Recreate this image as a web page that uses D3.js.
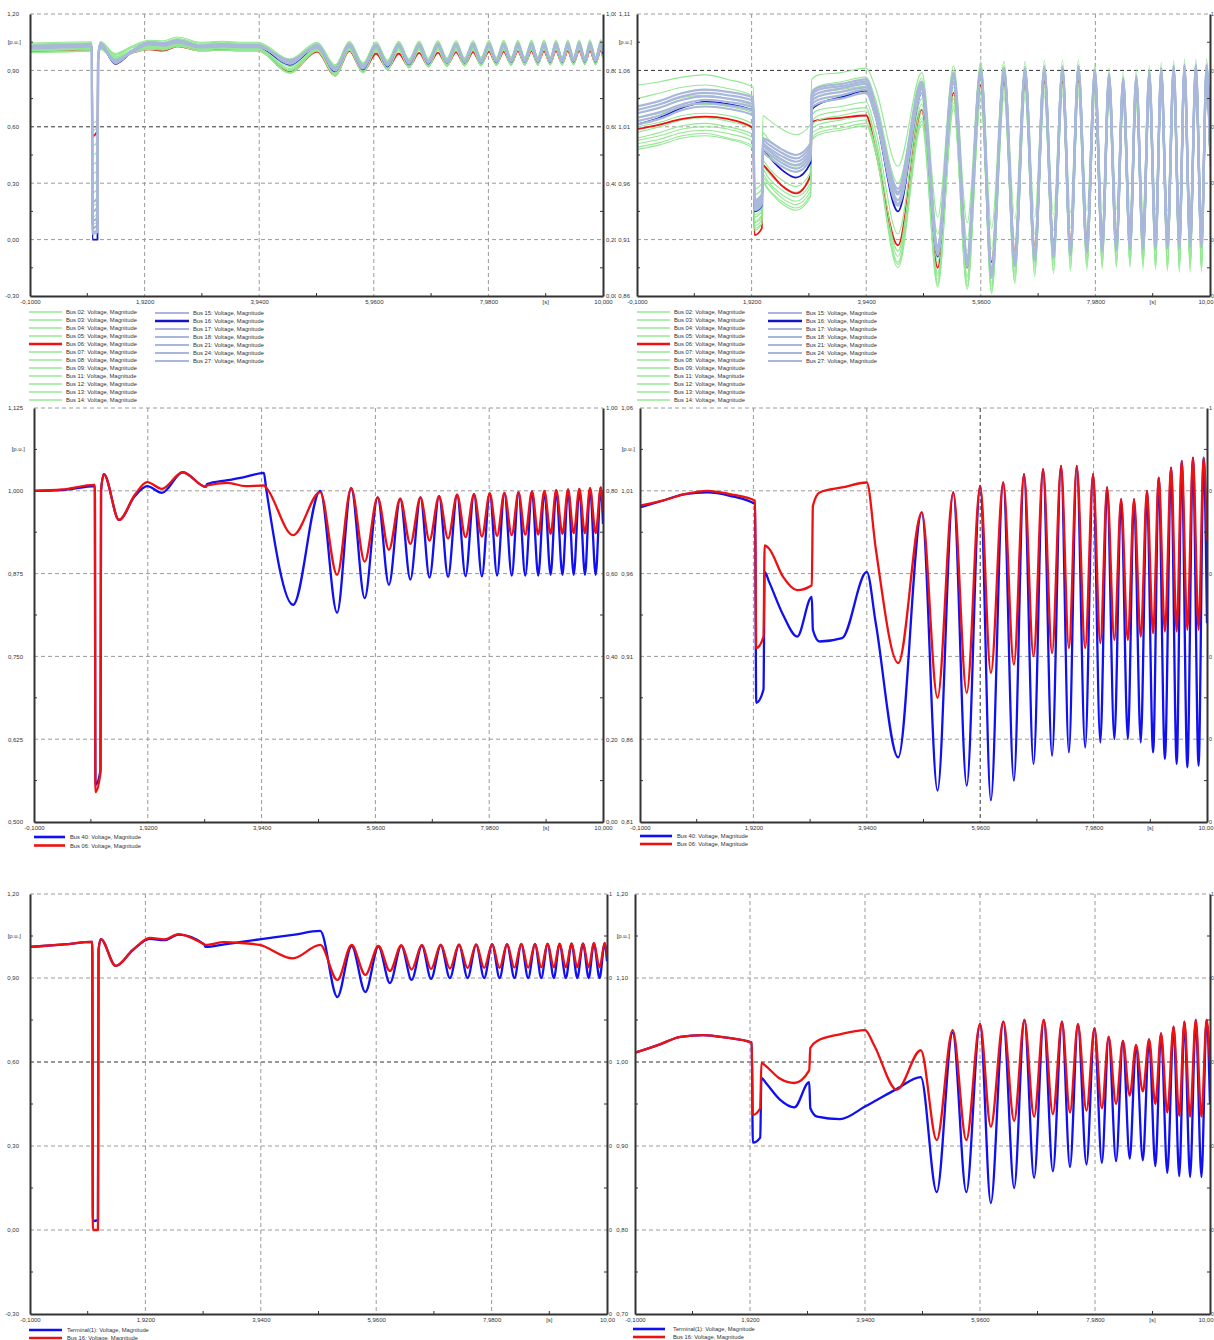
<!DOCTYPE html>
<html><head><meta charset="utf-8">
<script src="https://cdn.jsdelivr.net/npm/d3@7"></script>
<style>
body{margin:0;background:#fff;}
svg{display:block;font-family:"Liberation Sans",Arial,sans-serif;}
</style></head><body>
<svg id="chart" width="1214" height="1340"></svg>
<script>
// ---------------- axis data ----------------
const xTickVals = [-0.1, 1.92, 3.94, 5.96, 7.98, 10.0];
const xTickText = ['-0,1000', '1,9200', '3,9400', '5,9600', '7,9800', '10,000'];
const xTickTextShort = ['-0,1000', '1,9200', '3,9400', '5,9600', '7,9800', '10,00'];
const xMinorVals = [0.91, 2.93, 4.95, 6.97];
const xUnitPos = 8.99;
const rightTickVals = [0, 0.2, 0.4, 0.6, 0.8, 1.0];
const rightTickText = ['0,00', '0,20', '0,40', '0,60', '0,80', '1,00'];
const rightTickTextCut = ['0', '0', '0', '0', '0', '1'];
const tlYTicks = [-0.30, 0.00, 0.30, 0.60, 0.90, 1.20];
const trYTicks = [0.86, 0.91, 0.96, 1.01, 1.06, 1.11];
const mlYTicks = [0.500, 0.625, 0.750, 0.875, 1.000, 1.125];
const mrYTicks = [0.81, 0.86, 0.91, 0.96, 1.01, 1.06];
const blYTicks = [-0.30, 0.00, 0.30, 0.60, 0.90, 1.20];
const brYTicks = [0.70, 0.80, 0.90, 1.00, 1.10, 1.20];

// ---------------- top-left (fault scenario), time knots [s] ----------------
const tlT = [-0.1,0.5,0.99,1.0,1.09,1.1,1.14,1.4,1.7,2.0,2.25,2.5,2.9,3.3,3.6,3.92,
 4.48,4.96,5.28,5.53,5.77,6.0,6.2,6.4,6.58,6.76,6.92,7.09,7.25,7.41,7.56,7.71,7.85,7.99,8.12,8.25,8.38,8.5,8.62,8.74,8.85,8.96,9.07,9.17,9.28,9.38,9.48,9.58,9.68,9.77,9.87,9.96,10.0];
const tlBus02 = [1.045,1.05,1.052,0.62,0.64,0.98,1.055,0.99,1.03,1.06,1.058,1.078,1.05,1.055,1.05,1.05,
 .96,1.05,.93,1.055,.94,1.052,.955,1.055,.962,1.056,.965,1.057,.967,1.058,.968,1.058,.97,1.059,.97,1.06,.971,1.06,.972,1.061,.972,1.061,.973,1.062,.973,1.062,.974,1.062,.974,1.063,.974,1.063,1.02];
const tlBus03 = [1.04,1.044,1.047,0.5,0.52,0.975,1.05,0.985,1.025,1.055,1.05,1.07,1.045,1.05,1.045,1.045,
 .955,1.045,.925,1.05,.935,1.047,.95,1.05,.958,1.05,.96,1.051,.962,1.052,.963,1.052,.965,1.053,.965,1.053,.966,1.054,.966,1.054,.967,1.055,.967,1.055,.968,1.055,.968,1.056,.968,1.056,.969,1.056,1.01];
const tlBus04 = [1.01,1.014,1.018,0.35,0.37,0.96,1.03,0.97,1.005,1.03,1.025,1.045,1.018,1.022,1.018,1.018,
 .91,1.02,.885,1.025,.9,1.02,.915,1.022,.925,1.023,.93,1.024,.932,1.025,.934,1.025,.935,1.026,.936,1.026,.937,1.027,.937,1.027,.938,1.028,.938,1.028,.939,1.028,.939,1.029,.94,1.029,.94,1.029,.98];
const tlBus05 = [1.0,1.004,1.008,0.45,0.47,0.955,1.02,0.965,0.998,1.02,1.015,1.035,1.01,1.014,1.01,1.01,
 .895,1.01,.878,1.015,.895,1.01,.91,1.012,.92,1.013,.924,1.014,.926,1.015,.928,1.015,.93,1.016,.93,1.016,.931,1.017,.932,1.017,.932,1.018,.933,1.018,.933,1.018,.934,1.019,.934,1.019,.934,1.019,.975];
const tlBus06 = [1.003,1.006,1.012,0.55,0.58,0.95,1.025,0.955,0.994,1.012,1.005,1.028,1.006,1.01,1.006,1.006,
 .89,1.0,.873,1.004,.893,.99,.91,.99,.92,.993,.925,.995,.928,.997,.93,.998,.932,1.0,.933,1.0,.934,1.002,.935,1.002,.936,1.003,.936,1.004,.937,1.004,.937,1.005,.938,1.005,.938,1.006,.97];
const tlBus07 = [1.006,1.01,1.014,0.58,0.6,0.96,1.025,0.97,1.0,1.024,1.02,1.04,1.013,1.018,1.014,1.014,
 .9,1.015,.88,1.02,.897,1.015,.912,1.017,.922,1.018,.926,1.019,.929,1.02,.93,1.02,.932,1.021,.933,1.021,.934,1.022,.934,1.022,.935,1.023,.935,1.023,.936,1.023,.936,1.024,.937,1.024,.937,1.024,.978];
const tlBus08 = [0.997,1.0,1.004,0.3,0.32,0.95,1.015,0.96,0.995,1.016,1.012,1.03,1.006,1.01,1.006,1.006,
 .888,1.005,.872,1.01,.89,1.005,.905,1.008,.915,1.009,.92,1.01,.922,1.01,.925,1.011,.926,1.011,.927,1.012,.928,1.012,.929,1.013,.929,1.013,.93,1.014,.93,1.014,.931,1.014,.931,1.015,.931,1.015,.97];
const tlBus09 = [1.035,1.04,1.043,0.4,0.42,0.97,1.045,0.98,1.02,1.05,1.045,1.065,1.04,1.045,1.04,1.04,
 .95,1.04,.92,1.045,.93,1.042,.945,1.045,.953,1.045,.956,1.046,.958,1.047,.96,1.047,.961,1.048,.962,1.048,.963,1.049,.963,1.049,.964,1.05,.964,1.05,.965,1.05,.965,1.051,.965,1.051,.966,1.051,1.005];
const tlBus11 = [1.015,1.019,1.022,0.25,0.27,0.96,1.035,0.975,1.01,1.035,1.03,1.05,1.023,1.027,1.023,1.023,
 .92,1.025,.89,1.03,.905,1.026,.92,1.028,.93,1.029,.934,1.03,.936,1.03,.938,1.031,.939,1.031,.94,1.032,.941,1.032,.941,1.033,.942,1.033,.942,1.034,.943,1.034,.943,1.034,.943,1.035,.944,1.035,.985];
const tlBus12 = [1.008,1.012,1.016,0.18,0.2,0.955,1.028,0.968,1.002,1.027,1.022,1.042,1.015,1.02,1.016,1.016,
 .905,1.018,.882,1.022,.898,1.018,.913,1.02,.923,1.021,.927,1.022,.93,1.022,.931,1.023,.933,1.023,.934,1.024,.935,1.024,.935,1.025,.936,1.025,.936,1.026,.937,1.026,.937,1.026,.938,1.027,.938,1.027,.98];
const tlBus13 = [1.003,1.007,1.01,0.12,0.14,0.95,1.022,0.962,0.998,1.02,1.017,1.036,1.01,1.015,1.011,1.011,
 .9,1.012,.877,1.017,.894,1.012,.909,1.014,.919,1.015,.923,1.016,.926,1.016,.928,1.017,.929,1.017,.93,1.018,.931,1.018,.932,1.019,.932,1.019,.933,1.02,.933,1.02,.934,1.02,.934,1.021,.934,1.021,.975];
const tlBus14 = [0.995,0.998,1.002,0.08,0.1,0.945,1.012,0.955,0.993,1.012,1.008,1.028,1.002,1.007,1.003,1.003,
 .885,1.003,.87,1.008,.887,1.003,.902,1.005,.912,1.006,.917,1.007,.92,1.008,.922,1.008,.923,1.009,.924,1.009,.925,1.01,.926,1.01,.926,1.011,.927,1.011,.927,1.012,.928,1.012,.928,1.012,.928,1.012,.968];
const tlBus15 = [1.025,1.03,1.034,0.06,0.08,0.96,1.04,0.945,1.0,1.045,1.04,1.057,1.028,1.035,1.03,1.03,
 .94,1.03,.905,1.035,.915,1.032,.93,1.035,.94,1.035,.942,1.036,.945,1.036,.946,1.037,.948,1.037,.948,1.038,.95,1.038,.95,1.039,.95,1.039,.952,1.04,.952,1.04,.952,1.04,.953,1.04,.953,1.04,1.0];
const tlBus16 = [1.02,1.025,1.03,0.0,0.0,0.95,1.04,0.935,0.998,1.04,1.035,1.052,1.024,1.03,1.025,1.025,
 .93,1.028,.895,1.033,.905,1.03,.922,1.033,.932,1.033,.936,1.034,.94,1.034,.941,1.035,.942,1.035,.943,1.036,.944,1.036,.945,1.037,.945,1.037,.946,1.038,.946,1.038,.947,1.038,.947,1.038,.947,1.038,.99];
const tlBus17 = [1.02,1.025,1.03,0.1,0.12,0.96,1.035,0.95,1.0,1.04,1.035,1.05,1.025,1.03,1.027,1.027,
 .95,1.025,.91,1.03,.92,1.028,.935,1.03,.945,1.03,.946,1.031,.948,1.032,.95,1.032,.95,1.033,.951,1.033,.952,1.034,.952,1.034,.953,1.035,.953,1.035,.954,1.035,.954,1.036,.955,1.036,.955,1.036,1.0];
const tlBus18 = [1.03,1.035,1.04,0.04,0.05,0.97,1.045,0.94,1.005,1.05,1.045,1.06,1.032,1.04,1.035,1.035,
 .935,1.035,.9,1.04,.91,1.037,.925,1.04,.935,1.04,.94,1.041,.942,1.041,.944,1.042,.945,1.042,.946,1.043,.947,1.043,.948,1.044,.948,1.044,.949,1.045,.949,1.045,.95,1.045,.95,1.045,.95,1.045,1.0];
const tlBus21 = [1.018,1.022,1.027,0.15,0.17,0.95,1.03,0.955,0.995,1.038,1.032,1.048,1.022,1.028,1.024,1.024,
 .955,1.02,.915,1.025,.925,1.024,.94,1.026,.948,1.027,.95,1.028,.952,1.028,.953,1.029,.954,1.029,.955,1.03,.955,1.03,.956,1.031,.956,1.031,.957,1.032,.957,1.032,.958,1.032,.958,1.033,.958,1.033,1.0];
const tlBus24 = [1.028,1.033,1.037,0.03,0.04,0.965,1.042,0.94,1.002,1.047,1.042,1.058,1.03,1.037,1.032,1.032,
 .938,1.032,.9,1.037,.912,1.034,.928,1.037,.938,1.037,.94,1.038,.943,1.038,.944,1.039,.945,1.039,.946,1.04,.947,1.04,.948,1.041,.948,1.041,.949,1.042,.949,1.042,.95,1.042,.95,1.042,.95,1.042,1.0];
const tlBus27 = [1.022,1.027,1.031,0.2,0.22,0.955,1.036,0.95,0.998,1.042,1.036,1.052,1.026,1.032,1.028,1.028,
 .948,1.027,.908,1.032,.92,1.03,.935,1.032,.944,1.032,.946,1.033,.948,1.034,.95,1.034,.95,1.035,.951,1.035,.952,1.036,.952,1.036,.953,1.037,.953,1.037,.954,1.037,.954,1.038,.955,1.038,.955,1.038,1.0];

// ---------------- top-right (second scenario), time knots [s] ----------------
const trT = [-0.1,0.3,0.7,1.1,1.5,1.95,1.97,2.1,2.12,2.2,2.45,2.7,2.96,2.98,3.1,3.5,3.94,4.1,
 4.5,4.92,5.2,5.48,5.72,5.96,6.15,6.37,6.56,6.74,6.91,7.08,7.24,7.4,7.54,7.68,7.83,7.97,8.1,8.22,8.35,8.47,8.59,8.7,8.82,8.93,9.04,9.14,9.25,9.36,9.46,9.55,9.65,9.75,9.85,9.94,10.0];
const trBus02 = [1.047,1.05,1.054,1.056,1.052,1.045,.955,.96,1.02,1.017,1.008,1.003,1.012,1.052,1.056,1.058,1.062,1.045,
 .975,1.058,.93,1.064,.925,1.068,.92,1.068,.928,1.068,.93,1.069,.932,1.069,.934,1.069,.935,1.066,.936,1.062,.937,1.059,.937,1.06,.937,1.064,.936,1.067,.935,1.069,.935,1.07,.934,1.07,.934,1.07,1.02];
const trBus03 = [1.018,1.022,1.028,1.03,1.028,1.022,.94,.945,.99,.986,.975,.97,.982,1.03,1.034,1.037,1.04,1.02,
 .94,1.045,.9,1.055,.895,1.06,.885,1.06,.895,1.06,.9,1.06,.903,1.061,.905,1.061,.906,1.058,.907,1.054,.908,1.05,.908,1.052,.907,1.056,.906,1.06,.905,1.062,.904,1.063,.904,1.063,.904,1.063,1.0];
const trBus04 = [1.005,1.01,1.016,1.018,1.015,1.008,.93,.935,.975,.97,.958,.952,.965,1.015,1.02,1.024,1.027,1.0,
 .9,1.03,.88,1.04,.878,1.047,.872,1.048,.882,1.049,.888,1.05,.891,1.05,.893,1.051,.894,1.048,.895,1.044,.896,1.04,.896,1.042,.895,1.046,.894,1.05,.893,1.052,.892,1.053,.892,1.053,.892,1.053,.99];
const trBus05 = [.998,1.002,1.008,1.01,1.008,1.0,.925,.93,.968,.962,.95,.944,.957,1.008,1.012,1.016,1.02,.995,
 .895,1.022,.875,1.035,.873,1.042,.868,1.044,.878,1.045,.884,1.045,.887,1.046,.889,1.046,.89,1.043,.891,1.039,.892,1.035,.892,1.037,.891,1.041,.89,1.045,.889,1.047,.888,1.048,.888,1.048,.888,1.048,.985];
const trBus06 = [1.008,1.012,1.017,1.019,1.017,1.009,.914,.92,.976,.972,.958,.951,.967,1.014,1.016,1.018,1.02,.99,
 .905,1.025,.885,1.04,.885,1.047,.89,1.05,.9,1.05,.905,1.05,.908,1.05,.91,1.051,.91,1.048,.911,1.044,.912,1.04,.912,1.042,.913,1.046,.913,1.05,.913,1.052,.913,1.053,.913,1.053,.913,1.053,.99];
const trBus07 = [1.01,1.014,1.02,1.022,1.02,1.012,.932,.938,.98,.975,.963,.957,.97,1.02,1.025,1.028,1.032,1.008,
 .915,1.035,.89,1.045,.885,1.05,.878,1.051,.888,1.052,.893,1.052,.896,1.053,.898,1.053,.9,1.05,.9,1.046,.901,1.042,.901,1.044,.9,1.048,.899,1.052,.898,1.054,.897,1.055,.897,1.055,.897,1.055,.99];
const trBus08 = [.992,.996,1.002,1.004,1.0,.993,.92,.925,.962,.956,.944,.938,.95,1.0,1.005,1.009,1.013,.99,
 .888,1.015,.87,1.028,.868,1.036,.864,1.038,.873,1.039,.879,1.04,.882,1.04,.884,1.041,.885,1.038,.886,1.034,.887,1.03,.887,1.032,.886,1.036,.885,1.04,.884,1.042,.883,1.043,.883,1.043,.883,1.043,.98];
const trBus09 = [1.035,1.04,1.045,1.047,1.044,1.037,.95,.955,1.005,1.0,.99,.985,.996,1.042,1.046,1.05,1.054,1.035,
 .96,1.053,.915,1.06,.91,1.064,.902,1.064,.91,1.064,.915,1.065,.918,1.065,.92,1.065,.921,1.062,.922,1.058,.923,1.054,.923,1.056,.922,1.06,.921,1.063,.92,1.065,.92,1.066,.92,1.066,.92,1.066,1.01];
const trBus11 = [1.0,1.005,1.011,1.013,1.01,1.003,.926,.932,.972,.966,.954,.948,.96,1.011,1.016,1.02,1.024,1.0,
 .9,1.026,.878,1.038,.876,1.045,.87,1.046,.88,1.047,.886,1.047,.889,1.048,.891,1.048,.892,1.045,.893,1.041,.894,1.037,.894,1.039,.893,1.043,.892,1.047,.891,1.049,.89,1.05,.89,1.05,.89,1.05,.985];
const trBus12 = [.995,.999,1.005,1.007,1.004,.997,.922,.928,.965,.96,.947,.941,.953,1.004,1.008,1.012,1.016,.992,
 .89,1.018,.872,1.031,.87,1.039,.866,1.041,.875,1.042,.881,1.042,.884,1.043,.886,1.043,.887,1.04,.888,1.036,.889,1.032,.889,1.034,.888,1.038,.887,1.042,.886,1.044,.885,1.045,.885,1.045,.885,1.045,.98];
const trBus13 = [.99,.994,1.0,1.002,.999,.991,.918,.924,.96,.955,.942,.936,.948,.998,1.003,1.007,1.011,.988,
 .885,1.012,.868,1.026,.866,1.034,.862,1.036,.871,1.037,.877,1.037,.88,1.038,.882,1.038,.883,1.035,.884,1.031,.885,1.027,.885,1.029,.884,1.033,.883,1.037,.882,1.039,.881,1.04,.881,1.04,.881,1.04,.975];
const trBus14 = [1.025,1.03,1.036,1.038,1.035,1.028,.945,.95,.995,.99,.98,.975,.987,1.035,1.04,1.043,1.046,1.025,
 .95,1.05,.905,1.058,.9,1.063,.893,1.063,.9,1.063,.905,1.064,.908,1.064,.91,1.064,.911,1.061,.912,1.057,.913,1.053,.913,1.055,.912,1.059,.911,1.062,.91,1.064,.91,1.065,.91,1.065,.91,1.065,1.005];
const trBus15 = [1.028,1.033,1.04,1.043,1.041,1.036,.945,.95,1.0,.998,.99,.985,.995,1.04,1.045,1.048,1.052,1.03,
 .955,1.05,.905,1.058,.895,1.062,.885,1.062,.895,1.062,.9,1.063,.903,1.063,.905,1.064,.907,1.061,.908,1.057,.909,1.053,.91,1.055,.91,1.059,.911,1.062,.911,1.064,.911,1.065,.912,1.065,.912,1.065,1.0];
const trBus16 = [1.012,1.018,1.027,1.032,1.03,1.024,.935,.94,.99,.985,.972,.965,.978,1.025,1.03,1.036,1.042,1.02,
 .935,1.04,.895,1.05,.89,1.055,.88,1.055,.89,1.055,.895,1.056,.9,1.056,.902,1.057,.904,1.054,.905,1.05,.906,1.046,.907,1.048,.907,1.052,.908,1.055,.908,1.057,.908,1.058,.908,1.058,.908,1.058,.99];
const trBus17 = [1.022,1.027,1.034,1.037,1.035,1.03,.942,.947,.995,.992,.984,.979,.99,1.036,1.04,1.044,1.048,1.027,
 .95,1.047,.902,1.055,.892,1.06,.882,1.06,.892,1.06,.897,1.061,.9,1.061,.902,1.062,.904,1.059,.905,1.055,.906,1.051,.907,1.053,.907,1.057,.908,1.06,.908,1.062,.908,1.063,.909,1.063,.909,1.063,.998];
const trBus18 = [1.018,1.023,1.03,1.034,1.032,1.027,.94,.945,.993,.99,.981,.976,.987,1.033,1.037,1.041,1.045,1.025,
 .945,1.045,.9,1.053,.89,1.058,.88,1.058,.89,1.058,.895,1.059,.898,1.059,.9,1.06,.902,1.057,.903,1.053,.904,1.049,.905,1.051,.905,1.055,.906,1.058,.906,1.06,.906,1.061,.907,1.061,.907,1.061,.995];
const trBus21 = [1.015,1.02,1.028,1.031,1.029,1.024,.938,.943,.99,.987,.978,.973,.984,1.03,1.034,1.038,1.043,1.022,
 .942,1.043,.898,1.05,.888,1.056,.878,1.056,.888,1.056,.893,1.057,.896,1.057,.898,1.058,.9,1.055,.901,1.051,.902,1.047,.903,1.049,.903,1.053,.904,1.056,.904,1.058,.904,1.059,.905,1.059,.905,1.059,.993];
const trBus24 = [1.025,1.03,1.037,1.04,1.038,1.033,.944,.949,.998,.995,.987,.982,.993,1.038,1.043,1.046,1.05,1.028,
 .952,1.048,.904,1.056,.894,1.061,.884,1.061,.894,1.061,.899,1.062,.902,1.062,.904,1.063,.906,1.06,.907,1.056,.908,1.052,.909,1.054,.909,1.058,.91,1.061,.91,1.063,.91,1.064,.911,1.064,.911,1.064,1.0];
const trBus27 = [1.012,1.017,1.025,1.028,1.026,1.02,.936,.941,.987,.984,.975,.97,.981,1.027,1.031,1.035,1.04,1.02,
 .94,1.04,.896,1.048,.886,1.054,.876,1.054,.886,1.054,.891,1.055,.894,1.055,.896,1.056,.898,1.053,.899,1.049,.9,1.045,.901,1.047,.901,1.051,.902,1.054,.902,1.056,.902,1.057,.903,1.057,.903,1.057,.99];

// ---------------- middle-left ----------------
const mlT = [-0.1,0.4,0.98,0.99,1.08,1.09,1.14,1.41,1.69,1.91,2.17,2.54,2.95,2.97,3.34,3.65,3.98,4.02,
 4.5,4.98,5.28,5.53,5.77,6.0,6.2,6.4,6.58,6.76,6.92,7.09,7.25,7.41,7.56,7.71,7.85,7.99,8.12,8.25,8.38,8.5,8.62,8.74,8.85,8.96,9.07,9.17,9.28,9.38,9.48,9.58,9.68,9.77,9.87,9.96,10.0];
const mlBus40 = [1.0,1.001,1.007,0.556,0.578,1.0,1.025,0.956,0.992,1.007,0.997,1.028,1.006,1.01,1.016,1.021,1.027,1.004,
 .828,1.0,.816,1.004,.838,.99,.858,.988,.866,.99,.869,.992,.87,.994,.871,.995,.871,.996,.872,.997,.872,.998,.872,.999,.872,1.0,.873,1.001,.873,1.002,.873,1.003,.873,1.004,.873,1.005,.95];
const mlBus06 = [1.0,1.002,1.009,0.545,0.575,1.0,1.025,0.956,0.994,1.013,1.003,1.028,1.006,1.008,1.012,1.007,1.008,1.005,
 .933,.998,.873,1.004,.893,.99,.911,.988,.92,.99,.925,.992,.928,.994,.93,.995,.931,.996,.932,.997,.933,.998,.934,.999,.934,1.0,.935,1.001,.935,1.002,.936,1.003,.936,1.004,.936,1.005,.97];

// ---------------- middle-right ----------------
const mrT = trT;
const mrBus40 = [1.0,1.004,1.008,1.009,1.007,1.002,.882,.89,.961,.955,.935,.922,.946,.926,.919,.921,.961,.93,
 .849,.997,.829,1.009,.832,1.013,.823,1.015,.835,1.02,.845,1.023,.85,1.025,.852,1.025,.855,1.02,.858,1.012,.86,1.005,.86,1.005,.858,1.01,.852,1.018,.848,1.024,.845,1.028,.843,1.03,.844,1.03,.93];
const mrBus06 = [1.001,1.004,1.008,1.01,1.008,1.004,.915,.922,.977,.975,.958,.95,.953,1.001,1.009,1.012,1.015,.975,
 .906,.997,.885,1.009,.888,1.013,.9,1.015,.905,1.02,.91,1.023,.912,1.025,.915,1.025,.915,1.02,.918,1.012,.92,1.005,.92,1.005,.922,1.01,.924,1.018,.925,1.024,.925,1.028,.926,1.03,.926,1.03,.98];

// ---------------- bottom-left ----------------
const blT = [-0.1,0.5,0.99,1.0,1.09,1.1,1.14,1.4,1.7,2.0,2.25,2.5,2.95,2.97,3.3,3.6,3.92,
 4.5,4.98,5.28,5.53,5.77,6.0,6.2,6.4,6.58,6.76,6.92,7.09,7.25,7.41,7.56,7.71,7.85,7.99,8.12,8.25,8.38,8.5,8.62,8.74,8.85,8.96,9.07,9.17,9.28,9.38,9.48,9.58,9.68,9.77,9.87,9.96,10.0];
const blTerminal = [1.011,1.02,1.029,0.032,0.035,1.0,1.039,0.943,1.0,1.04,1.035,1.055,1.02,1.011,1.02,1.029,1.038,
 1.054,1.068,.832,1.014,.85,1.012,.882,1.015,.893,1.016,.897,1.017,.9,1.018,.9,1.019,.9,1.02,.9,1.02,.9,1.021,.9,1.021,.9,1.022,.9,1.022,.9,1.023,.9,1.023,.9,1.024,.9,1.024,.96];
const blBus16 = [1.011,1.02,1.029,0.0,0.0,1.0,1.039,0.943,1.0,1.043,1.038,1.057,1.02,1.018,1.028,1.025,1.018,
 .97,1.018,.893,1.018,.911,1.015,.925,1.017,.93,1.018,.932,1.019,.934,1.02,.935,1.02,.936,1.021,.936,1.021,.937,1.022,.937,1.022,.938,1.023,.938,1.023,.938,1.024,.938,1.024,.938,1.025,.938,1.025,.98];

// ---------------- bottom-right ----------------
const brT = trT;
const brTerminal = [1.011,1.02,1.03,1.032,1.029,1.023,.904,.91,.981,.975,.955,.946,.976,.945,.935,.932,.947,.953,
 .968,.982,.845,1.035,.845,1.045,.832,1.048,.85,1.05,.862,1.05,.87,1.048,.875,1.045,.878,1.04,.88,1.03,.882,1.025,.885,1.02,.883,1.027,.876,1.034,.868,1.042,.864,1.048,.863,1.05,.863,1.05,.95];
const brBus16 = [1.011,1.02,1.03,1.032,1.029,1.023,.937,.945,.999,.995,.98,.975,.99,1.017,1.025,1.033,1.038,1.02,
 .967,1.014,.907,1.038,.907,1.045,.923,1.048,.93,1.05,.935,1.05,.938,1.048,.94,1.045,.942,1.04,.945,1.03,.95,1.025,.96,1.02,.965,1.027,.95,1.034,.94,1.042,.936,1.048,.935,1.05,.935,1.05,1.0];

// ---------------- styles ----------------
const C_GREEN = '#93e893', C_RED = '#ee1111', C_BLUE = '#1010f0', C_STEEL = '#a9b8da', C_DBLUE = '#1515c8';
const sGreen = {color:C_GREEN, width:1.1, lw:1.4};
const sRed = {color:C_RED, width:1.8, lw:2.4};
const sSteel = {color:C_STEEL, width:2.2, lw:2.2};
const sDBlue = {color:C_DBLUE, width:1.8, lw:2.4};
const sBig = (c) => ({color:c, width:2.3, lw:2.6});

function topSeries(D) {
  const col1 = [['02',sGreen],['03',sGreen],['04',sGreen],['05',sGreen],['06',sRed],['07',sGreen],['08',sGreen],['09',sGreen],['11',sGreen],['12',sGreen],['13',sGreen],['14',sGreen]];
  const col2 = [['15',sSteel],['16',sDBlue],['17',sSteel],['18',sSteel],['21',sSteel],['24',sSteel],['27',sSteel]];
  const out = [];
  col1.forEach(([n,s],i)=> out.push({name:`Bus ${n}: Voltage, Magnitude`, values:D['Bus'+n], style:s, col:0, row:i}));
  col2.forEach(([n,s],i)=> out.push({name:`Bus ${n}: Voltage, Magnitude`, values:D['Bus'+n], style:s, col:1, row:i}));
  return out;
}
const tlData = {Bus02:tlBus02,Bus03:tlBus03,Bus04:tlBus04,Bus05:tlBus05,Bus06:tlBus06,Bus07:tlBus07,Bus08:tlBus08,Bus09:tlBus09,Bus11:tlBus11,Bus12:tlBus12,Bus13:tlBus13,Bus14:tlBus14,Bus15:tlBus15,Bus16:tlBus16,Bus17:tlBus17,Bus18:tlBus18,Bus21:tlBus21,Bus24:tlBus24,Bus27:tlBus27};
const trData = {Bus02:trBus02,Bus03:trBus03,Bus04:trBus04,Bus05:trBus05,Bus06:trBus06,Bus07:trBus07,Bus08:trBus08,Bus09:trBus09,Bus11:trBus11,Bus12:trBus12,Bus13:trBus13,Bus14:trBus14,Bus15:trBus15,Bus16:trBus16,Bus17:trBus17,Bus18:trBus18,Bus21:trBus21,Bus24:trBus24,Bus27:trBus27};

const panels = [
  {id:'tl', left:30, right:603, top:14, bottom:296, clipRight:616, pad:11, yTicks:tlYTicks, dec:2, times:tlT,
   rText:rightTickText, rPad:3, rFs:6, xText:xTickText, lastEnd:null,
   series: topSeries(tlData), darkY:[0.60], legend:{y:312, dy:8, cols:[{x:29,len:33,tx:66},{x:155,len:34,tx:193,y:313}]}},
  {id:'tr', left:637, right:1210, top:14, bottom:296, clipRight:null, pad:7, yTicks:trYTicks, dec:2, times:trT,
   rText:rightTickTextCut, rPad:1, rFs:5, xText:xTickTextShort, lastEnd:1213,
   series: topSeries(trData), darkY:[1.06], legend:{y:312, dy:8, cols:[{x:637,len:33,tx:674},{x:768,len:34,tx:806,y:313}]}},
  {id:'ml', left:34, right:603, top:408, bottom:822, clipRight:619, pad:11, yTicks:mlYTicks, dec:3, times:mlT,
   rText:rightTickText, rPad:3, rFs:6, xText:xTickText, lastEnd:null,
   series:[{name:'Bus 40: Voltage, Magnitude', values:mlBus40, style:sBig(C_BLUE), col:0, row:0},
           {name:'Bus 06: Voltage, Magnitude', values:mlBus06, style:sBig(C_RED), col:0, row:1}],
   darkY:[], legend:{y:837, dy:8.5, cols:[{x:34,len:31,tx:70}]}},
  {id:'mr', left:640, right:1207, top:408, bottom:822, clipRight:null, pad:7, yTicks:mrYTicks, dec:2, times:mrT,
   rText:rightTickTextCut, rPad:2, rFs:5.5, xText:xTickTextShort, lastEnd:1213,
   series:[{name:'Bus 40: Voltage, Magnitude', values:mrBus40, style:sBig(C_BLUE), col:0, row:0},
           {name:'Bus 06: Voltage, Magnitude', values:mrBus06, style:sBig(C_RED), col:0, row:1}],
   darkY:[], darkX:[5.96], legend:{y:836, dy:8, cols:[{x:640,len:32,tx:677}]}},
  {id:'bl', left:30, right:607, top:894, bottom:1314, clipRight:null, pad:11, yTicks:blYTicks, dec:2, times:blT,
   rText:rightTickTextCut, rPad:2, rFs:5.5, xText:xTickTextShort, lastEnd:null,
   series:[{name:'Terminal(1): Voltage, Magnitude', values:blTerminal, style:sBig(C_BLUE), col:0, row:0},
           {name:'Bus 16: Voltage, Magnitude', values:blBus16, style:sBig(C_RED), col:0, row:1}],
   darkY:[0.60], legend:{y:1330, dy:8, cols:[{x:29,len:33,tx:67}]}},
  {id:'br', left:635, right:1210, top:894, bottom:1314, clipRight:null, pad:7, yTicks:brYTicks, dec:2, times:brT,
   rText:rightTickTextCut, rPad:1, rFs:5, xText:xTickTextShort, lastEnd:1213,
   series:[{name:'Terminal(1): Voltage, Magnitude', values:brTerminal, style:sBig(C_BLUE), col:0, row:0},
           {name:'Bus 16: Voltage, Magnitude', values:brBus16, style:sBig(C_RED), col:0, row:1}],
   darkY:[1.00], legend:{y:1329, dy:8, cols:[{x:633,len:32,tx:673}]}}
];

const svg = d3.select('#chart');
const defs = svg.append('defs');
const fmt = (d, n) => d.toFixed(n).replace('.', ',');
const TXT = '#333';
const FS = 6;

panels.forEach(cfg => {
  const root = svg.append('g');
  if (cfg.clipRight) {
    defs.append('clipPath').attr('id', 'pc-' + cfg.id).append('rect')
      .attr('x', 0).attr('y', cfg.top - 20).attr('width', cfg.clipRight).attr('height', cfg.bottom - cfg.top + 140);
    root.attr('clip-path', `url(#pc-${cfg.id})`);
  }
  const x = d3.scaleLinear().domain([xTickVals[0], xTickVals[xTickVals.length - 1]]).range([cfg.left, cfg.right]);
  const y = d3.scaleLinear().domain([cfg.yTicks[0], cfg.yTicks[cfg.yTicks.length - 1]]).range([cfg.bottom, cfg.top]);
  const yR = d3.scaleLinear().domain([0, 1]).range([cfg.bottom, cfg.top]);
  const darkY = cfg.darkY || [], darkX = cfg.darkX || [];

  // grid
  const grid = root.append('g');
  cfg.yTicks.slice(1).forEach(v => {
    const dk = darkY.some(d => Math.abs(d - v) < 1e-9);
    grid.append('line').attr('x1', cfg.left).attr('x2', cfg.right).attr('y1', y(v)).attr('y2', y(v))
      .attr('stroke', dk ? '#333' : '#9a9a9a').attr('stroke-width', 1).attr('stroke-dasharray', '4,3');
  });
  xTickVals.slice(1, -1).forEach(v => {
    const dk = darkX.some(d => Math.abs(d - v) < 1e-9);
    grid.append('line').attr('x1', x(v)).attr('x2', x(v)).attr('y1', cfg.top).attr('y2', cfg.bottom)
      .attr('stroke', dk ? '#333' : '#9a9a9a').attr('stroke-width', 1).attr('stroke-dasharray', '4,3');
  });

  // curves
  defs.append('clipPath').attr('id', 'pl-' + cfg.id).append('rect')
    .attr('x', cfg.left).attr('y', cfg.top - 2).attr('width', cfg.right - cfg.left).attr('height', cfg.bottom - cfg.top + 2);
  const plot = root.append('g').attr('clip-path', `url(#pl-${cfg.id})`);
  const line = d3.line().x(d => x(d[0])).y(d => y(d[1])).curve(d3.curveMonotoneX);
  cfg.series.forEach(s => {
    plot.append('path').datum(cfg.times.map((t, i) => [t, s.values[i]]))
      .attr('d', line).attr('fill', 'none').attr('stroke', s.style.color)
      .attr('stroke-width', s.style.width).attr('stroke-linejoin', 'round');
  });

  // axes
  const styleAxis = (fs) => g => {
    g.select('.domain').attr('stroke', '#333').attr('stroke-width', 2);
    g.selectAll('text').attr('font-size', fs).attr('fill', TXT).attr('font-family', '"Liberation Sans",Arial,sans-serif');
  };
  root.append('g').attr('transform', `translate(${cfg.left},0)`)
    .call(d3.axisLeft(y).tickValues(cfg.yTicks).tickFormat(d => fmt(d, cfg.dec)).tickSize(0).tickSizeOuter(0).tickPadding(cfg.pad))
    .call(styleAxis(FS));
  root.append('g').attr('transform', `translate(${cfg.right},0)`)
    .call(d3.axisRight(yR).tickValues(rightTickVals).tickFormat((d, i) => cfg.rText[i]).tickSize(0).tickSizeOuter(0).tickPadding(cfg.rPad))
    .call(styleAxis(cfg.rFs));
  const bx = root.append('g').attr('transform', `translate(0,${cfg.bottom})`)
    .call(d3.axisBottom(x).tickValues(xTickVals).tickFormat((d, i) => cfg.xText[i]).tickSize(0).tickSizeOuter(0).tickPadding(4))
    .call(styleAxis(FS));
  if (cfg.lastEnd) {
    bx.selectAll('.tick').filter((d, i) => i === xTickVals.length - 1).select('text')
      .attr('text-anchor', 'end').attr('x', cfg.lastEnd - cfg.right);
  }

  // minor ticks
  const mt = root.append('g').attr('stroke', '#333').attr('stroke-width', 1);
  xMinorVals.concat([xUnitPos]).forEach(v => mt.append('line').attr('x1', x(v)).attr('x2', x(v)).attr('y1', cfg.bottom).attr('y2', cfg.bottom - 3));
  for (let i = 0; i < cfg.yTicks.length - 1; i++) {
    const v = (cfg.yTicks[i] + cfg.yTicks[i + 1]) / 2;
    mt.append('line').attr('x1', cfg.left).attr('x2', cfg.left + 3).attr('y1', y(v)).attr('y2', y(v));
    mt.append('line').attr('x1', cfg.right).attr('x2', cfg.right - 3).attr('y1', y(v)).attr('y2', y(v));
  }
  // units
  const n = cfg.yTicks.length;
  root.append('text').attr('x', cfg.left - cfg.pad + 2).attr('y', y((cfg.yTicks[n - 1] + cfg.yTicks[n - 2]) / 2))
    .attr('dy', '0.32em').attr('text-anchor', 'end').attr('font-size', FS).attr('fill', TXT).text('[p.u.]');
  root.append('text').attr('x', x(xUnitPos)).attr('y', cfg.bottom + 4).attr('dy', '0.71em')
    .attr('text-anchor', 'middle').attr('font-size', FS).attr('fill', TXT).text('[s]');

  // legend
  const lg = svg.append('g');
  cfg.series.forEach(s => {
    const c = cfg.legend.cols[s.col];
    const yy = (c.y !== undefined ? c.y : cfg.legend.y) + s.row * cfg.legend.dy;
    lg.append('line').attr('x1', c.x).attr('x2', c.x + c.len).attr('y1', yy).attr('y2', yy)
      .attr('stroke', s.style.color).attr('stroke-width', s.style.lw);
    lg.append('text').attr('x', c.tx).attr('y', yy).attr('dy', '0.35em').attr('font-size', 5.8)
      .attr('fill', TXT).text(s.name);
  });
});
</script>
</body></html>
